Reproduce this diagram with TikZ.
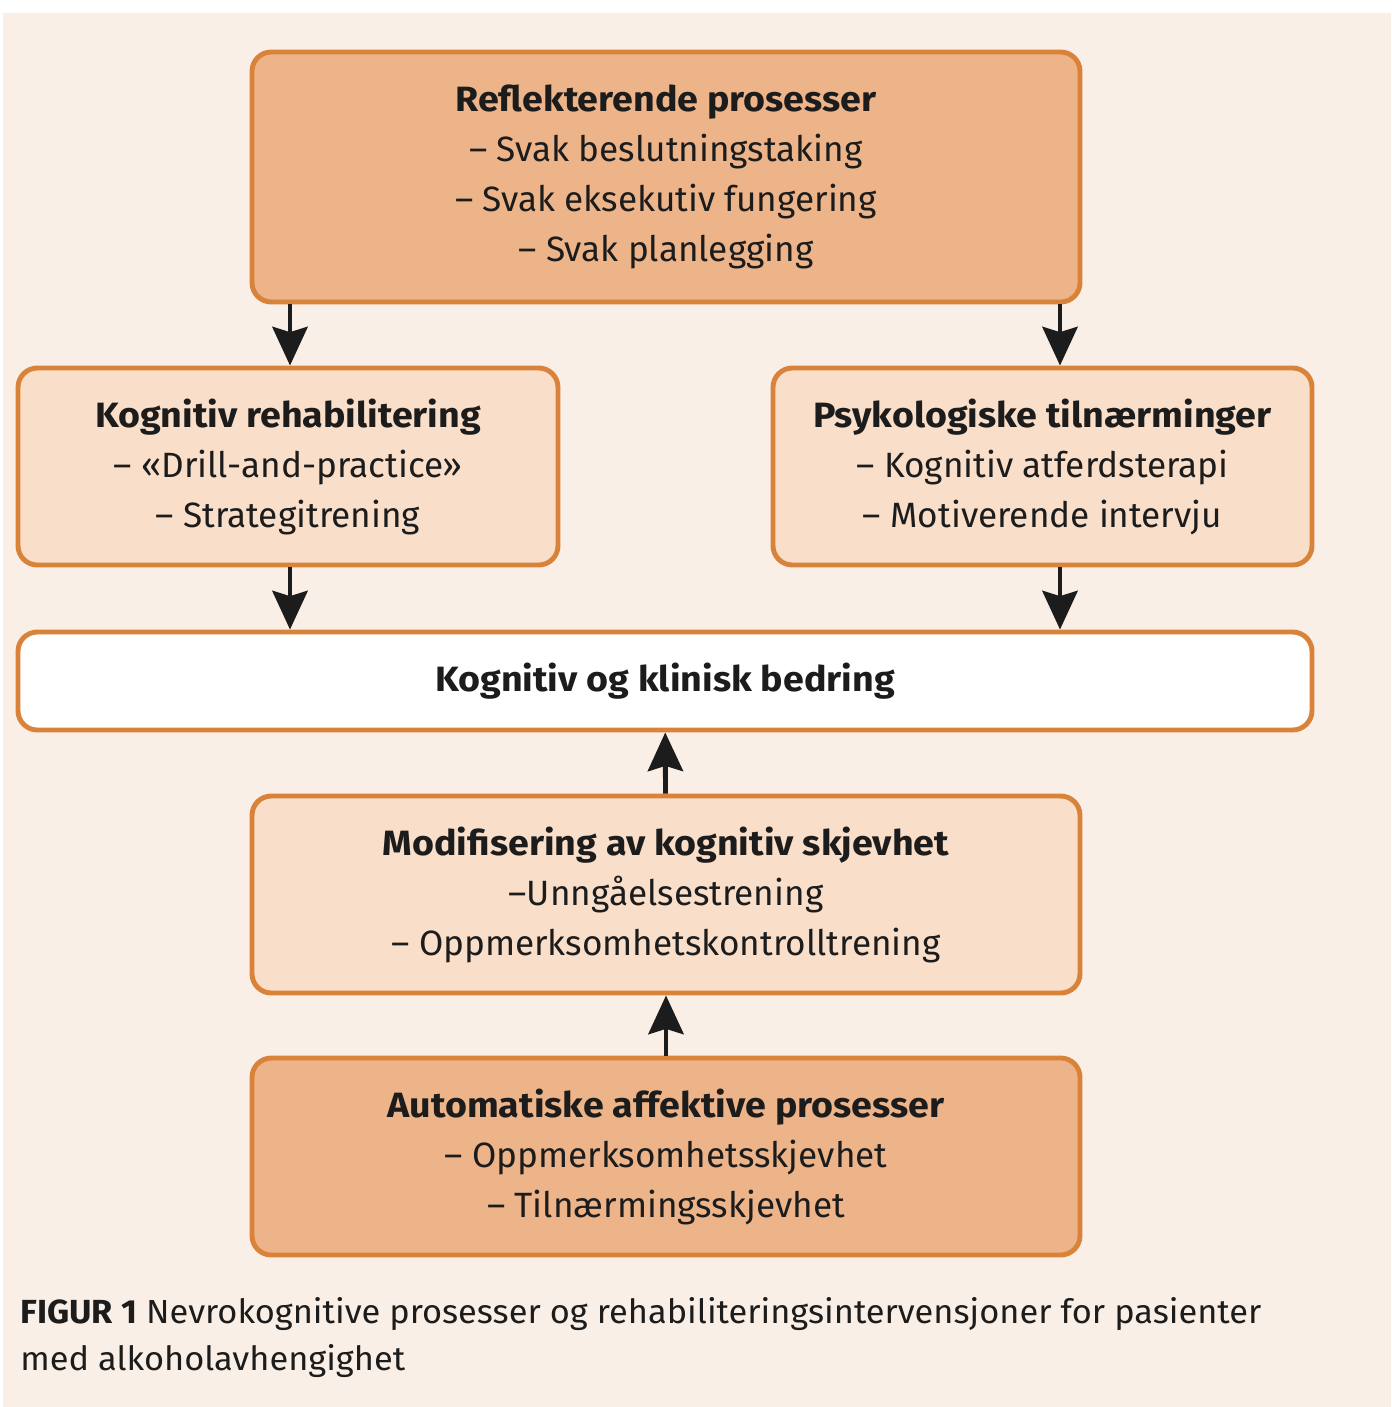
\documentclass[tikz,border=0pt]{standalone}
\usepackage{fontspec}
\setmainfont{Fira Sans}
\newfontfamily\capfont{Fira Sans}[FakeStretch=1.03]
\newfontfamily\headfont{Fira Sans}[FakeStretch=1.07]
\usetikzlibrary{positioning, arrows.meta}
\definecolor{bgcream}{HTML}{FAEFE6}
\definecolor{boxdark}{HTML}{EDB48A}
\definecolor{boxlight}{HTML}{F9DEC9}
\definecolor{boxedge}{HTML}{D9823A}
\definecolor{inkdark}{HTML}{1C1C1C}
\newcommand{\boxhead}[1]{{\headfont\bfseries #1}}

\begin{document}
\begin{tikzpicture}[
                box/.style={rectangle, draw=boxedge, line width=2.8pt, rounded corners=11pt, minimum width=16.56cm, minimum height=3.94cm, align=center, fill=boxlight, text=inkdark, font=\fontsize{20}{28.45}\selectfont},
                darkbox/.style={box, fill=boxdark},
                arrow/.style={-{Stealth[length=22pt, width=20pt, inset=3pt]}, line width=2.8pt, inkdark}
            ]
            \useasboundingbox (0,0) rectangle (27.82,-28.14);
            \fill[bgcream] (0.06,-0.26) rectangle (27.82,-28.14);

            \node[darkbox, minimum height=5cm] (refl) at (13.32,-3.54) {\boxhead{Reflekterende prosesser}\\ – Svak beslutningstaking\\ – Svak eksekutiv fungering\\ – Svak planlegging};
            \node[box, minimum width=10.8cm] (kog) at (5.76,-9.33) {\boxhead{Kognitiv rehabilitering}\\ – «Drill-and-practice»\\ – Strategitrening};
            \node[box, minimum width=10.78cm] (psyk) at (20.85,-9.33) {\boxhead{Psykologiske tilnærminger}\\ – Kognitiv atferdsterapi\\ – Motiverende intervju};
            \node[box, fill=white, minimum width=25.88cm, minimum height=1.96cm] (bedring) at (13.3,-13.62) {\boxhead{Kognitiv og klinisk bedring}};
            \node[box] (mod) at (13.32,-17.89) {\boxhead{Modifisering av kognitiv skjevhet}\\ –Unngåelsestrening\\ – Oppmerksomhetskontrolltrening};
            \node[darkbox] (auto) at (13.32,-23.13) {\boxhead{Automatiske affektive prosesser}\\ – Oppmerksomhetsskjevhet\\ – Tilnærmingsskjevhet};

            \node[anchor=north west, align=left, inner sep=0pt, text=inkdark, font=\capfont\fontsize{19}{26.5}\selectfont] (caption) at (0.4,-25.95) {\textbf{FIGUR 1} Nevrokognitive prosesser og rehabiliteringsintervensjoner for pasienter\\ med alkoholavhengighet};

            \draw[arrow] (refl.south -| 5.8,0) -- (kog.north -| 5.8,0);
            \draw[arrow] (refl.south -| 21.2,0) -- (psyk.north -| 21.2,0);
            \draw[arrow] (kog.south -| 5.8,0) -- (bedring.north -| 5.8,0);
            \draw[arrow] (psyk.south -| 21.2,0) -- (bedring.north -| 21.2,0);
            \draw[arrow] (mod) -- (bedring);
            \draw[arrow] (auto) -- (mod);
        \end{tikzpicture}
\end{document}
